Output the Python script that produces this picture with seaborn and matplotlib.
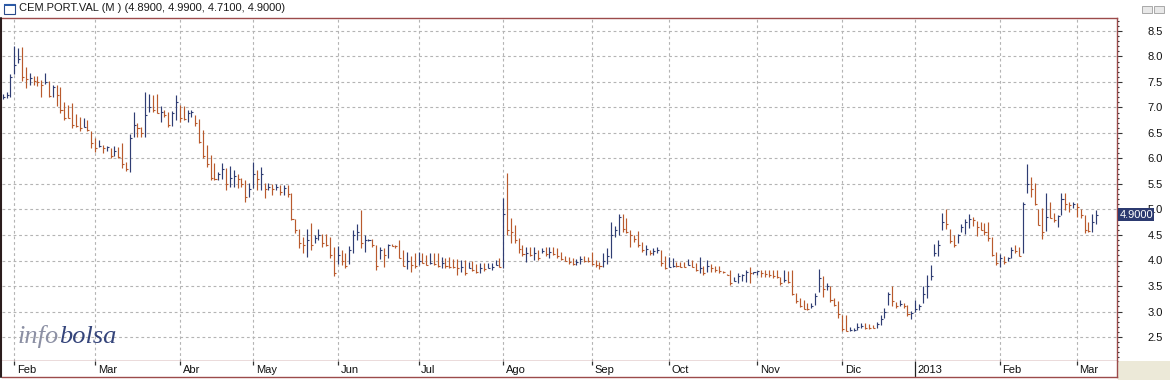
import numpy as np
import pandas as pd
import matplotlib
matplotlib.use("Agg")
import matplotlib.pyplot as plt
import matplotlib.transforms as mtransforms
from matplotlib.path import Path
from matplotlib.patches import Rectangle
from matplotlib.lines import Line2D
from matplotlib.ticker import MultipleLocator
import seaborn as sns

# ---------------- data ----------------
TITLE = "CEM.PORT.VAL (M ) (4.8900, 4.9900, 4.7100, 4.9000)"
START, END = "2012-01-27", "2013-03-08"
HOLIDAYS = ["2012-04-06", "2012-04-09", "2012-05-01",
            "2012-12-25", "2012-12-26", "2013-01-01"]
MONTH_LABELS = ["Feb", "Mar", "Abr", "May", "Jun", "Jul", "Ago", "Sep",
                "Oct", "Nov", "Dic", "2013", "Feb", "Mar"]
Y_TICKS = [2.5, 3.0, 3.5, 4.0, 4.5, 5.0, 5.5, 6.0, 6.5, 7.0, 7.5, 8.0, 8.5]
LAST_LABEL = "4.9000"

high = [
    7.26, 7.31, 7.65, 8.20, 8.16, 8.19, 7.80, 7.67, 7.62, 7.62,
    7.53, 7.67, 7.51, 7.44, 7.44, 7.41, 7.10, 7.05, 7.08, 6.88,
    6.81, 6.79, 6.75, 6.53, 6.40, 6.36, 6.26, 6.24, 6.20, 6.25,
    6.22, 6.30, 5.94, 6.49, 6.92, 6.69, 6.61, 7.31, 7.27, 7.25,
    7.27, 7.02, 6.96, 6.92, 6.94, 7.25, 7.05, 7.02, 6.95, 6.95,
    6.85, 6.77, 6.56, 6.26, 6.07, 5.91, 5.74, 5.91, 5.81, 5.85,
    5.77, 5.70, 5.61, 5.58, 5.51, 5.94, 5.77, 5.84, 5.51, 5.51,
    5.50, 5.50, 5.48, 5.48, 5.48, 5.32, 4.81, 4.61, 4.47, 4.61,
    4.73, 4.50, 4.61, 4.52, 4.51, 4.46, 4.27, 4.29, 4.21, 4.14,
    4.29, 4.60, 4.72, 4.99, 4.50, 4.42, 4.42, 4.30, 4.26, 4.24,
    4.32, 4.32, 4.30, 4.40, 4.21, 4.17, 4.09, 4.14, 4.17, 4.14,
    4.11, 4.14, 4.15, 4.14, 4.06, 4.04, 4.06, 4.02, 4.02, 4.01,
    4.01, 3.98, 3.99, 3.93, 3.95, 3.95, 3.95, 3.96, 4.01, 4.04,
    5.22, 5.71, 4.83, 4.70, 4.44, 4.30, 4.27, 4.26, 4.26, 4.21,
    4.24, 4.26, 4.26, 4.26, 4.24, 4.17, 4.09, 4.06, 4.04, 4.02,
    4.09, 4.09, 4.06, 4.17, 4.01, 3.98, 4.14, 4.24, 4.76, 4.68,
    4.92, 4.92, 4.83, 4.60, 4.50, 4.57, 4.37, 4.30, 4.21, 4.24,
    4.27, 4.21, 4.09, 4.06, 4.04, 3.98, 3.98, 3.98, 4.02, 4.01,
    3.96, 4.06, 3.89, 4.01, 3.94, 3.89, 3.89, 3.79, 3.74, 3.81,
    3.68, 3.75, 3.74, 3.81, 3.88, 3.78, 3.80, 3.81, 3.81, 3.81,
    3.81, 3.81, 3.68, 3.81, 3.80, 3.81, 3.36, 3.26, 3.23, 3.16,
    3.16, 3.36, 3.83, 3.70, 3.56, 3.50, 3.26, 3.21, 2.93, 2.93,
    2.69, 2.67, 2.77, 2.78, 2.77, 2.76, 2.74, 2.80, 2.93, 3.06,
    3.39, 3.50, 3.19, 3.23, 3.16, 3.13, 3.01, 3.23, 3.15, 3.50,
    3.72, 3.91, 4.32, 4.40, 4.93, 5.00, 4.61, 4.50, 4.52, 4.72,
    4.81, 4.91, 4.86, 4.78, 4.76, 4.73, 4.76, 4.47, 4.17, 4.13,
    4.08, 4.06, 4.27, 4.30, 4.27, 5.15, 5.90, 5.63, 5.51, 5.00,
    5.02, 5.32, 5.15, 4.93, 4.89, 5.32, 5.32, 5.15, 5.15, 5.13,
    5.00, 4.89, 4.76, 4.91, 4.99,
]
low = [
    7.16, 7.18, 7.20, 7.65, 7.87, 7.51, 7.39, 7.44, 7.44, 7.43,
    7.21, 7.47, 7.20, 7.20, 7.03, 6.90, 6.75, 6.79, 6.59, 6.62,
    6.53, 6.62, 6.53, 6.20, 6.12, 6.23, 6.10, 6.15, 6.00, 6.05,
    6.00, 5.82, 5.76, 5.73, 6.43, 6.43, 6.43, 6.43, 6.92, 6.92,
    6.89, 6.72, 6.82, 6.62, 6.64, 6.76, 6.72, 6.76, 6.72, 6.82,
    6.63, 6.30, 6.00, 5.84, 5.58, 5.58, 5.58, 5.59, 5.38, 5.45,
    5.45, 5.42, 5.44, 5.15, 5.25, 5.42, 5.38, 5.38, 5.22, 5.38,
    5.29, 5.38, 5.29, 5.29, 5.25, 4.79, 4.53, 4.24, 4.15, 4.06,
    4.21, 4.34, 4.40, 4.27, 4.29, 4.04, 3.70, 3.93, 3.91, 3.85,
    3.93, 4.14, 4.40, 4.24, 4.17, 4.39, 4.26, 3.81, 4.02, 3.87,
    4.04, 4.29, 4.24, 4.04, 3.89, 3.83, 3.78, 3.85, 3.91, 3.95,
    3.91, 3.93, 3.91, 3.88, 3.86, 3.85, 3.85, 3.85, 3.72, 3.78,
    3.72, 3.85, 3.80, 3.76, 3.76, 3.80, 3.85, 3.81, 3.91, 3.87,
    3.85, 4.50, 4.34, 4.34, 4.14, 4.08, 3.98, 4.08, 4.01, 4.01,
    4.14, 4.08, 4.04, 4.11, 4.04, 4.01, 3.99, 3.94, 3.91, 3.91,
    3.94, 3.98, 3.98, 3.91, 3.88, 3.83, 3.88, 3.94, 4.04, 4.47,
    4.50, 4.55, 4.53, 4.27, 4.37, 4.27, 4.17, 4.11, 4.11, 4.11,
    4.14, 3.89, 3.83, 3.88, 3.88, 3.87, 3.87, 3.87, 3.91, 3.87,
    3.80, 3.75, 3.72, 3.78, 3.78, 3.78, 3.76, 3.75, 3.71, 3.52,
    3.59, 3.55, 3.59, 3.57, 3.55, 3.74, 3.72, 3.68, 3.68, 3.68,
    3.65, 3.65, 3.52, 3.57, 3.55, 3.32, 3.16, 3.08, 3.04, 3.03,
    3.06, 3.13, 3.39, 3.29, 3.42, 3.19, 3.10, 2.87, 2.61, 2.61,
    2.61, 2.61, 2.64, 2.67, 2.65, 2.66, 2.67, 2.67, 2.74, 2.87,
    3.13, 3.10, 3.06, 3.10, 3.06, 2.91, 2.85, 3.00, 3.03, 3.17,
    3.26, 3.62, 4.08, 4.08, 4.59, 4.61, 4.35, 4.26, 4.35, 4.55,
    4.52, 4.63, 4.68, 4.48, 4.60, 4.50, 4.39, 4.08, 3.91, 3.88,
    3.93, 4.00, 4.04, 4.14, 4.08, 4.14, 5.32, 5.25, 5.09, 4.70,
    4.42, 4.57, 4.83, 4.76, 4.66, 4.89, 4.99, 4.96, 5.02, 4.86,
    4.83, 4.53, 4.55, 4.55, 4.71,
]
close = [
    7.20, 7.24, 7.60, 7.83, 7.95, 7.60, 7.55, 7.58, 7.52, 7.50,
    7.45, 7.50, 7.22, 7.40, 7.25, 6.95, 6.80, 6.80, 6.65, 6.64,
    6.60, 6.62, 6.55, 6.30, 6.20, 6.25, 6.20, 6.22, 6.05, 6.15,
    6.02, 5.90, 5.80, 6.40, 6.65, 6.60, 6.50, 6.85, 7.00, 6.95,
    6.90, 6.92, 6.85, 6.65, 6.90, 7.10, 6.80, 6.78, 6.90, 6.92,
    6.70, 6.32, 6.05, 5.90, 5.62, 5.60, 5.70, 5.80, 5.50, 5.62,
    5.65, 5.60, 5.50, 5.25, 5.40, 5.70, 5.60, 5.70, 5.40, 5.45,
    5.40, 5.45, 5.35, 5.42, 5.30, 4.82, 4.60, 4.35, 4.30, 4.40,
    4.30, 4.45, 4.50, 4.35, 4.30, 4.10, 3.75, 4.10, 4.00, 3.90,
    4.20, 4.50, 4.55, 4.35, 4.40, 4.41, 4.30, 3.90, 4.20, 4.10,
    4.30, 4.29, 4.28, 4.05, 3.90, 4.00, 3.92, 3.90, 4.00, 3.95,
    3.92, 3.95, 3.93, 3.90, 3.95, 3.90, 3.88, 3.87, 3.85, 3.88,
    3.75, 3.85, 3.82, 3.78, 3.85, 3.83, 3.86, 3.87, 3.92, 3.88,
    4.92, 4.60, 4.55, 4.40, 4.22, 4.12, 4.15, 4.10, 4.15, 4.05,
    4.18, 4.12, 4.16, 4.12, 4.08, 4.03, 4.00, 3.97, 3.94, 3.98,
    4.02, 4.00, 3.99, 3.93, 3.92, 3.90, 4.00, 4.08, 4.50, 4.60,
    4.85, 4.62, 4.56, 4.50, 4.42, 4.30, 4.20, 4.22, 4.15, 4.18,
    4.20, 3.95, 3.85, 3.88, 3.90, 3.89, 3.88, 3.87, 3.92, 3.88,
    3.82, 3.86, 3.75, 3.90, 3.85, 3.82, 3.80, 3.78, 3.72, 3.55,
    3.60, 3.70, 3.71, 3.78, 3.75, 3.77, 3.79, 3.75, 3.74, 3.72,
    3.70, 3.68, 3.55, 3.62, 3.58, 3.35, 3.20, 3.10, 3.05, 3.04,
    3.10, 3.30, 3.65, 3.45, 3.50, 3.22, 3.12, 2.95, 2.65, 2.62,
    2.63, 2.64, 2.70, 2.72, 2.68, 2.67, 2.67, 2.75, 2.85, 3.00,
    3.35, 3.20, 3.10, 3.15, 3.10, 2.95, 2.98, 3.05, 3.10, 3.35,
    3.50, 3.70, 4.15, 4.30, 4.75, 4.72, 4.38, 4.30, 4.50, 4.65,
    4.75, 4.82, 4.80, 4.65, 4.60, 4.55, 4.45, 4.10, 3.95, 4.05,
    3.98, 4.05, 4.20, 4.19, 4.08, 5.10, 5.50, 5.40, 5.10, 4.70,
    4.55, 4.85, 4.84, 4.80, 4.88, 5.20, 5.10, 5.08, 5.10, 5.05,
    4.90, 4.60, 4.58, 4.75, 4.90,
]

# ---------------- style ----------------
sns.set_theme(style="white")
plt.rcParams["font.family"] = ["Liberation Sans", "DejaVu Sans"]

BLUE = "#2f3d73"
ORANGE = "#b95a2d"
FRAME = "#9c4b4b"
GRID = "#b4b4b4"

dates = pd.bdate_range(START, END)
dates = dates[~dates.isin(pd.to_datetime(HOLIDAYS))]
n = len(dates)
df = pd.DataFrame({"date": dates, "i": np.arange(n),
                   "high": high, "low": low, "close": close})
df["dir"] = np.where(df["close"].diff().fillna(1.0) > 0, "up", "down")

# positions of the first trading day of each month
period = df["date"].dt.to_period("M")
first_idx = df.loc[period != period.shift(), "i"].tolist()[1:]

W, H = 1170, 380
fig = plt.figure(figsize=(W / 100, H / 100), dpi=100)
fig.patch.set_facecolor("white")


def fx(px):
    return px / W


def fy(py):
    return 1 - py / H


L, R, T, B, BS = 2, 1117, 18, 361, 377

# beige corner below the price axis
fig.add_artist(Rectangle((fx(R + 0.5), 0), 1 - fx(R + 0.5), fy(B),
                         transform=fig.transFigure, fc="#ece9d8", ec="none",
                         zorder=0))

ax = fig.add_axes([fx(L), fy(B), fx(R - L), (B - T) / H])
ax.set_facecolor("white")

# value <-> pixel: 8.5 at y=31, 51 px per unit
ax.set_ylim(8.5 - (B - 31) / 51, 8.5 + (31 - T) / 51)
ax.set_xlim((L - 2.7) / 3.85, (R - 2.7) / 3.85)

# grid
for yv in Y_TICKS:
    ax.axhline(yv, color=GRID, lw=0.8, ls=(0, (2.5, 2.5)), zorder=0)
for xv in first_idx:
    ax.axvline(xv, color=GRID, lw=0.8, ls=(0, (2.5, 2.5)), zorder=0)

# OHLC bars: high-low lines + close tick
col = df["dir"].map({"up": BLUE, "down": ORANGE})
ax.vlines(df["i"], df["low"], df["high"], colors=col, lw=0.85, zorder=3)
tick_marker = Path([(0.0, 0.0), (1.0, 0.0)])
sns.scatterplot(data=df, x="i", y="close", hue="dir",
                palette={"up": BLUE, "down": ORANGE},
                marker=tick_marker, s=9, linewidth=0.8, edgecolor="face",
                legend=False, ax=ax, zorder=4)
ax.set_xlabel("")
ax.set_ylabel("")

# right price axis
ax.yaxis.tick_right()
ax.set_yticks(Y_TICKS)
ax.set_yticklabels([f"{v:.1f}" for v in Y_TICKS])
ax.yaxis.set_minor_locator(MultipleLocator(0.1))
ax.tick_params(axis="y", which="major", direction="out", length=3.8,
               width=0.8, color="#333333", pad=18, labelsize=8,
               labelcolor="#111111", right=True, left=False)
ax.tick_params(axis="y", which="minor", direction="out", length=1.5,
               width=0.8, color="#333333", right=True, left=False)
ax.set_xticks([])

for s in ["top", "right", "bottom"]:
    ax.spines[s].set_visible(True)
    ax.spines[s].set_color(FRAME)
    ax.spines[s].set_linewidth(1.0)
ax.spines["left"].set_visible(False)

# last price box
trans = mtransforms.blended_transform_factory(ax.transAxes, ax.transData)
ax.text(1.0 + 2.5 / (R - L), close[-1], LAST_LABEL, transform=trans,
        ha="left", va="center", color="white", fontsize=8, zorder=10,
        clip_on=False,
        bbox=dict(boxstyle="square,pad=0.12", fc="#2c3a70", ec="none"))

# bottom month strip
ax2 = fig.add_axes([fx(L), fy(BS), fx(R - L), (BS - B) / H], sharex=ax)
ax2.set_facecolor("white")
ax2.set_ylim(0, 1)
ax2.set_yticks([])
ax2.tick_params(axis="x", which="both", length=0, labelbottom=False)
for s in ["right", "bottom"]:
    ax2.spines[s].set_color(FRAME)
    ax2.spines[s].set_linewidth(1.0)
ax2.spines["top"].set_visible(False)
ax2.spines["left"].set_visible(False)
for xv, lab in zip(first_idx, MONTH_LABELS):
    if lab.isdigit():
        ax2.vlines(xv, 0, 1, color="#222222", lw=0.9)
    else:
        ax2.vlines(xv, 0.72, 1.0, color="#333333", lw=0.9)
    ax2.text(xv + 0.7, 0.45, lab, ha="left", va="center",
             fontsize=8, color="#111111")

# left dark edge
fig.add_artist(Line2D([fx(1), fx(1)], [fy(T), fy(BS)],
                      transform=fig.transFigure, color="#2b1d1d", lw=1.5))

# title bar
fig.add_artist(Rectangle((fx(4), fy(14)), fx(11), 10 / H,
                         transform=fig.transFigure, fc="white",
                         ec="#2a4a8a", lw=0.8))
fig.add_artist(Rectangle((fx(4), fy(6)), fx(11), 2.5 / H,
                         transform=fig.transFigure, fc="#2a5aa8",
                         ec="none"))
fig.text(fx(19), fy(8), TITLE, ha="left", va="center", fontsize=8,
         color="#1a1a1a")
for bx in (1142, 1154):
    fig.add_artist(Rectangle((fx(bx), fy(13)), fx(10), 7 / H,
                             transform=fig.transFigure, fc="#e8e8e8",
                             ec="#a8a8a8", lw=0.7))

# logo
t_info = fig.text(fx(18), fy(348), "info", ha="left", va="bottom",
                  fontsize=19, style="italic", color="#8c90a4",
                  family=["Liberation Serif", "DejaVu Serif"])
ax.annotate("bolsa", xy=(1, 0), xycoords=t_info, ha="left", va="bottom",
            fontsize=19, style="italic", color="#34447a",
            family=["Liberation Serif", "DejaVu Serif"],
            annotation_clip=False)

fig.savefig("out.png", dpi=100, facecolor=fig.get_facecolor())
